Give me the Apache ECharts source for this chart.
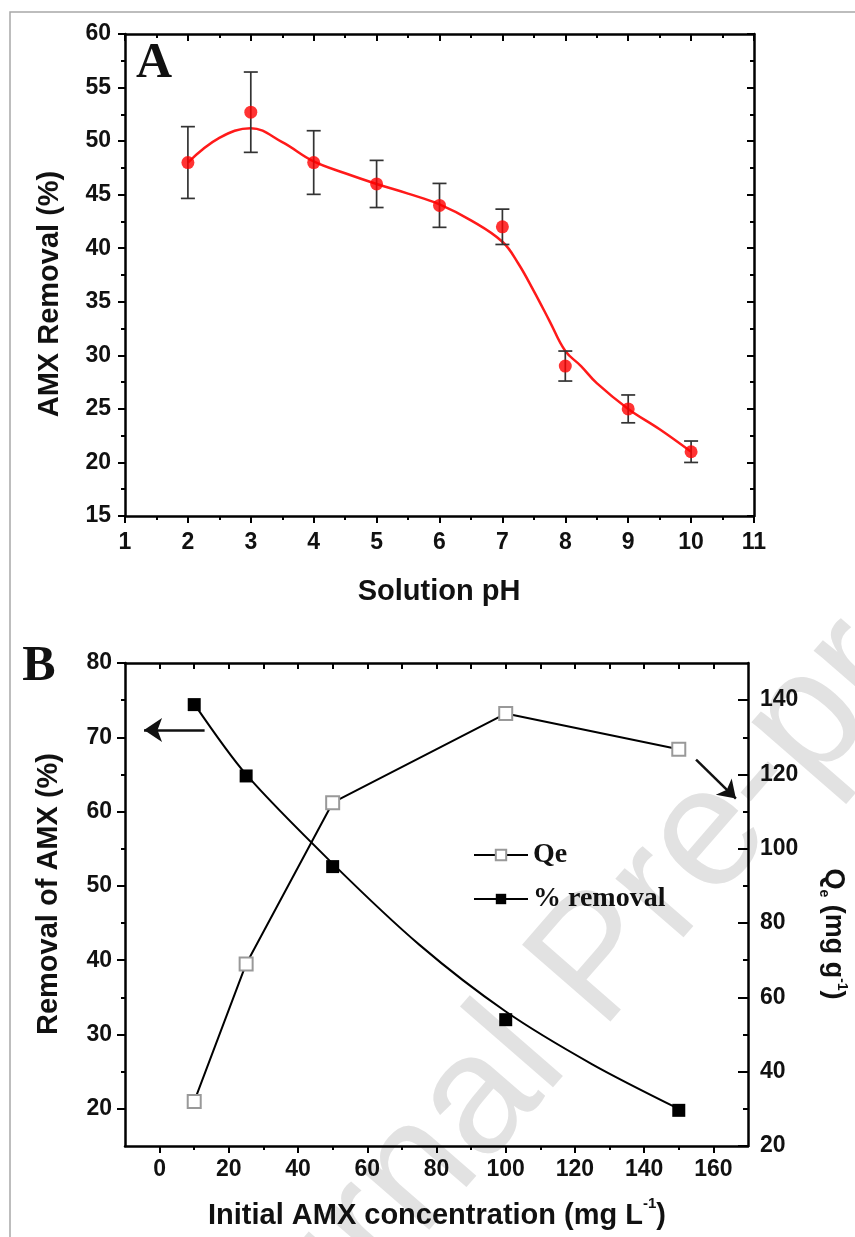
<!DOCTYPE html>
<html><head><meta charset="utf-8">
<script src="https://cdn.jsdelivr.net/npm/echarts@6/dist/echarts.min.js"></script>
<style>html,body{margin:0;padding:0;background:#fff}#c{width:855px;height:1237px}</style>
</head><body><div id="c"></div>
<script>
// ---- Panel A data ----
const phValues = [2, 3, 4, 5, 6, 7, 8, 9, 10];
const removalA = [48, 52.7, 48, 46, 44, 42, 29, 25, 21];
const removalErrA = [3.35, 3.75, 2.97, 2.2, 2.05, 1.65, 1.4, 1.3, 1.0];
const fitPh = [2, 2.5, 3, 3.5, 4, 4.5, 5, 5.5, 6, 6.5, 7, 7.25, 7.5, 7.75, 8, 8.25, 8.5, 9, 9.5, 10];
const fitRemovalA = [48, 50.3, 51.2, 49.9, 48.1, 47.0, 46, 45.1, 44.1, 42.6, 40.6, 38.6, 36.0, 33.2, 30.4, 29.0, 27.4, 25.0, 23.1, 21.0];
// ---- Panel B data ----
const concValues = [10, 25, 50, 100, 150];
const qeValues = [32, 69, 112.4, 136.4, 126.8];
const removalB = [74.4, 64.8, 52.6, 32, 19.8];
const fitConc = [10, 25, 50, 75, 100, 125, 150];
const fitRemovalB = [74.5, 65, 53, 42.1, 33.1, 26.0, 20];
// ---- tick labels ----
const concLabels = [0, 20, 40, 60, 80, 100, 120, 140, 160];
const concMinor = [10, 30, 50, 70, 90, 110, 130, 150];
const concTop = [0, 10, 20, 30, 40, 50, 60, 70, 80, 90, 100, 110, 120, 130, 140, 150, 160];
const leftBLabels = [20, 30, 40, 50, 60, 70, 80];
const leftBMinor = [25, 35, 45, 55, 65, 75];
const rightBLabels = [20, 40, 60, 80, 100, 120, 140];
const rightBMinor = [30, 50, 70, 90, 110, 130];

const chart = echarts.init(document.getElementById('c'), null, {renderer: 'canvas'});
const FONT = 'Liberation Sans, Arial, sans-serif';
const SERIF = 'Liberation Serif, Times New Roman, serif';
const lineS = {color: '#000', width: 2.5};
const tickS = {color: '#000', width: 2};
const lbl = {fontFamily: FONT, fontWeight: 'bold', fontSize: 23, color: '#111'};
const hiddenLine = {show: false, onZero: false};

function axisBase(extra) {
  return Object.assign({type: 'value', splitLine: {show: false},
    axisLine: {show: true, onZero: false, lineStyle: lineS}}, extra);
}

const option = {
  animation: false,
  backgroundColor: '#fff',
  grid: [
    {left: 125, right: 101, top: 34, height: 482},
    {left: 125, right: 107, top: 663, height: 483}
  ],
  xAxis: [
    axisBase({gridIndex: 0, position: 'bottom', min: 1, max: 11, interval: 1,
      axisTick: {length: 7, lineStyle: tickS},
      minorTick: {show: true, splitNumber: 2, length: 4, lineStyle: tickS},
      axisLabel: Object.assign({margin: 15}, lbl)}),
    axisBase({gridIndex: 0, position: 'top', min: 1, max: 11, interval: 1,
      axisTick: {inside: true, length: 7, lineStyle: tickS},
      minorTick: {show: true, splitNumber: 2, length: 4, lineStyle: tickS},
      axisLabel: {show: false}}),
    axisBase({gridIndex: 1, position: 'bottom', min: -10, max: 170,
      axisTick: {length: 7, lineStyle: tickS, customValues: concLabels},
      axisLabel: Object.assign({margin: 12, customValues: concLabels}, lbl)}),
    axisBase({gridIndex: 1, position: 'bottom', min: -10, max: 170,
      axisLine: hiddenLine,
      axisTick: {length: 4, lineStyle: tickS, customValues: concMinor},
      axisLabel: {show: false}}),
    axisBase({gridIndex: 1, position: 'top', min: -10, max: 170,
      axisTick: {inside: true, length: 6, lineStyle: tickS, customValues: concTop},
      axisLabel: {show: false}})
  ],
  yAxis: [
    axisBase({gridIndex: 0, position: 'left', min: 15, max: 60, interval: 5,
      axisTick: {length: 7, lineStyle: tickS},
      minorTick: {show: true, splitNumber: 2, length: 4, lineStyle: tickS},
      axisLabel: Object.assign({margin: 14}, lbl)}),
    axisBase({gridIndex: 0, position: 'right', min: 15, max: 60, interval: 5,
      axisTick: {inside: true, length: 7, lineStyle: tickS},
      minorTick: {show: true, splitNumber: 2, length: 4, lineStyle: tickS},
      axisLabel: {show: false}}),
    axisBase({gridIndex: 1, position: 'left', min: 15, max: 80,
      axisTick: {length: 8, lineStyle: tickS, customValues: leftBLabels},
      axisLabel: Object.assign({margin: 13, customValues: leftBLabels}, lbl)}),
    axisBase({gridIndex: 1, position: 'left', min: 15, max: 80,
      axisLine: hiddenLine,
      axisTick: {length: 4, lineStyle: tickS, customValues: leftBMinor},
      axisLabel: {show: false}}),
    axisBase({gridIndex: 1, position: 'right', min: 20, max: 150,
      axisTick: {inside: true, length: 10, lineStyle: tickS, customValues: rightBLabels},
      axisLabel: Object.assign({margin: 12, customValues: rightBLabels}, lbl)}),
    axisBase({gridIndex: 1, position: 'right', min: 20, max: 150,
      axisLine: hiddenLine,
      axisTick: {inside: true, length: 5, lineStyle: tickS, customValues: rightBMinor},
      axisLabel: {show: false}})
  ],
  legend: {
    orient: 'vertical', left: 468, top: 836, itemWidth: 54, itemHeight: 13, itemGap: 16,
    textStyle: {fontFamily: SERIF, fontWeight: 'bold', fontSize: 28, color: '#111'},
    data: [
      {name: 'Qe'},
      {name: '% removal', lineStyle: {color: '#000', width: 2, opacity: 1}}
    ]
  },
  series: [
    {
      name: 'fitA', type: 'line', xAxisIndex: 0, yAxisIndex: 0, smooth: 0.4,
      symbol: 'none', z: 3,
      lineStyle: {color: '#ff1a1a', width: 2.5},
      data: fitPh.map((x, i) => [x, fitRemovalA[i]])
    },
    {
      name: 'errA', type: 'custom', xAxisIndex: 0, yAxisIndex: 0, z: 4,
      data: phValues.map((x, i) => [x, removalA[i] - removalErrA[i], removalA[i] + removalErrA[i]]),
      renderItem: function (params, api) {
        const lo = api.coord([api.value(0), api.value(1)]);
        const hi = api.coord([api.value(0), api.value(2)]);
        const w = 7;
        const st = {stroke: '#333', lineWidth: 1.7};
        return {type: 'group', children: [
          {type: 'line', shape: {x1: lo[0], y1: lo[1], x2: hi[0], y2: hi[1]}, style: st},
          {type: 'line', shape: {x1: lo[0] - w, y1: lo[1], x2: lo[0] + w, y2: lo[1]}, style: st},
          {type: 'line', shape: {x1: hi[0] - w, y1: hi[1], x2: hi[0] + w, y2: hi[1]}, style: st}
        ]};
      }
    },
    {
      name: 'pointsA', type: 'scatter', xAxisIndex: 0, yAxisIndex: 0, z: 5,
      symbol: 'circle', symbolSize: 13, itemStyle: {color: '#ff0000'},
      data: phValues.map((x, i) => [x, removalA[i]])
    },
    {
      name: 'Qe', type: 'line', xAxisIndex: 2, yAxisIndex: 4, z: 5,
      symbol: 'rect', symbolSize: 13,
      itemStyle: {color: '#fff', borderColor: '#999', borderWidth: 2},
      lineStyle: {color: '#000', width: 2},
      data: concValues.map((x, i) => [x, qeValues[i]]),
      markLine: {
        silent: true, symbol: ['none', 'arrow'], symbolSize: 17, animation: false,
        lineStyle: {color: '#111', width: 2.5, type: 'solid'}, label: {show: false},
        data: [[{coord: [155, 124]}, {coord: [166.5, 113.5]}]]
      }
    },
    {
      name: 'fitB', type: 'line', xAxisIndex: 2, yAxisIndex: 2, smooth: 0.3, z: 4,
      symbol: 'none', lineStyle: {color: '#000', width: 2},
      data: fitConc.map((x, i) => [x, fitRemovalB[i]])
    },
    {
      name: '% removal', type: 'line', xAxisIndex: 2, yAxisIndex: 2, z: 6,
      symbol: 'rect', symbolSize: 13,
      itemStyle: {color: '#000'},
      lineStyle: {color: '#000', width: 2, opacity: 0},
      data: concValues.map((x, i) => [x, removalB[i]]),
      markLine: {
        silent: true, symbol: ['none', 'arrow'], symbolSize: 18, animation: false,
        lineStyle: {color: '#111', width: 2.5, type: 'solid'}, label: {show: false},
        data: [[{coord: [13, 71]}, {coord: [-4.5, 71]}]]
      }
    }
  ],
  graphic: [
    {type: 'text', z: -10, x: 600, y: 962, rotation: 49 * Math.PI / 180,
      style: {text: 'Journal Pre-proof', fill: '#e2e2e2', font: '170px ' + FONT, align: 'center', verticalAlign: 'middle'}},
    {type: 'rect', z: 100, shape: {x: 10, y: 12, width: 900, height: 1300},
      style: {fill: 'none', stroke: '#a8a8a8', lineWidth: 1.5}},
    {type: 'text', z: 100, x: 154, y: 64,
      style: {text: 'A', fill: '#111', font: 'bold 50px ' + SERIF, align: 'center', verticalAlign: 'middle'}},
    {type: 'text', z: 100, x: 39, y: 667,
      style: {text: 'B', fill: '#111', font: 'bold 50px ' + SERIF, align: 'center', verticalAlign: 'middle'}},
    {type: 'text', z: 100, x: 50, y: 294, rotation: Math.PI / 2,
      style: {text: 'AMX Removal (%)', fill: '#111', font: 'bold 29px ' + FONT, align: 'center', verticalAlign: 'middle'}},
    {type: 'text', z: 100, x: 439, y: 592,
      style: {text: 'Solution pH', fill: '#111', font: 'bold 29px ' + FONT, align: 'center', verticalAlign: 'middle'}},
    {type: 'text', z: 100, x: 49, y: 894, rotation: Math.PI / 2,
      style: {text: 'Removal of AMX (%)', fill: '#111', font: 'bold 29px ' + FONT, align: 'center', verticalAlign: 'middle'}},
    {type: 'text', z: 100, x: 437, y: 1213,
      style: {text: '{a|Initial AMX concentration (mg L}{s|-1}{a|)}', align: 'center', verticalAlign: 'middle',
        rich: {
          a: {fontFamily: FONT, fontWeight: 'bold', fontSize: 29, fill: '#111', lineHeight: 34, verticalAlign: 'bottom'},
          s: {fontFamily: FONT, fontWeight: 'bold', fontSize: 15, fill: '#111', lineHeight: 34, verticalAlign: 'top'}
        }}},
    {type: 'text', z: 100, x: 833, y: 934, rotation: -Math.PI / 2,
      style: {text: '{a|Q}{b|e}{a| (mg g}{s|-1}{a|)}', align: 'center', verticalAlign: 'middle',
        rich: {
          a: {fontFamily: FONT, fontWeight: 'bold', fontSize: 27, fill: '#111', lineHeight: 32, verticalAlign: 'middle'},
          b: {fontFamily: FONT, fontWeight: 'bold', fontSize: 14, fill: '#111', lineHeight: 32, verticalAlign: 'bottom'},
          s: {fontFamily: FONT, fontWeight: 'bold', fontSize: 14, fill: '#111', lineHeight: 32, verticalAlign: 'top'}
        }}}
  ]
};
chart.setOption(option);
</script>
</body></html>
